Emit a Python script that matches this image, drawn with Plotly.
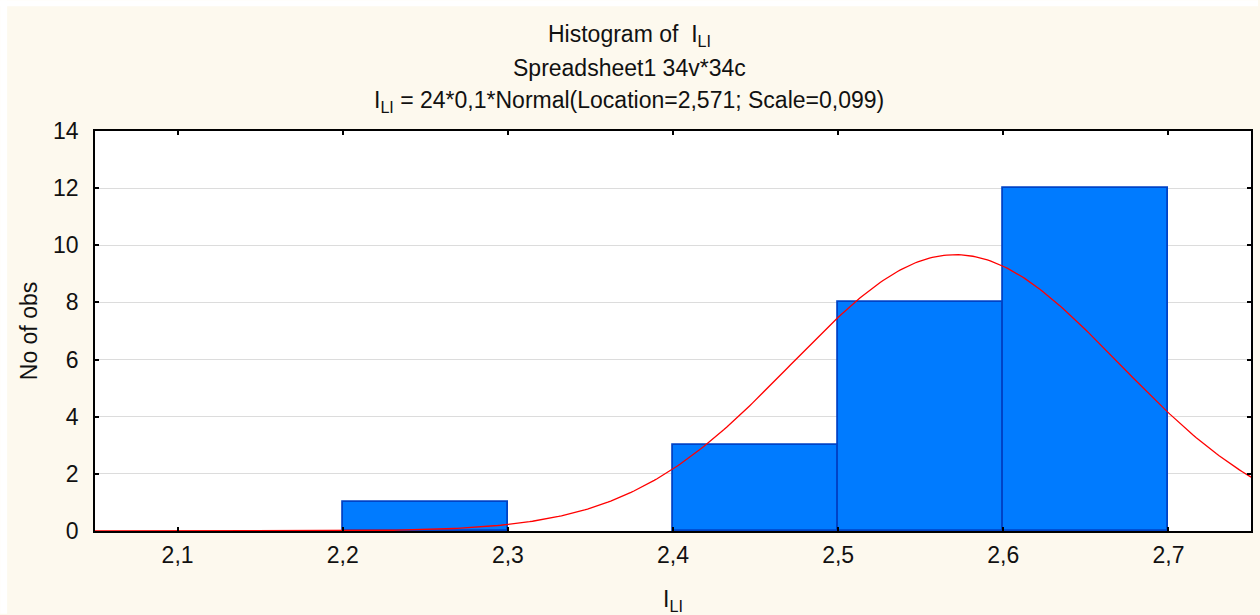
import numpy as np
import plotly.graph_objects as go

# ---- data ----
bin_left = [2.2, 2.3, 2.4, 2.5, 2.6]
counts = [1, 0, 3, 8, 12]
bin_width = 0.1
n_obs = 24
fit_location = 2.571
fit_scale = 0.099

x_tick_vals = [2.1, 2.2, 2.3, 2.4, 2.5, 2.6, 2.7]
x_tick_text = ["2,1", "2,2", "2,3", "2,4", "2,5", "2,6", "2,7"]
y_tick_vals = [0, 2, 4, 6, 8, 10, 12, 14]
y_tick_text = ["0", "2", "4", "6", "8", "10", "12", "14"]

title_lines = [
    "Histogram of  I<sub>LI</sub>",
    "Spreadsheet1 34v*34c",
    "I<sub>LI</sub> = 24*0,1*Normal(Location=2,571; Scale=0,099)",
]

# ---- layout geometry (pixels) ----
W, H = 1260, 615
L, R, T, B = 95, 7, 131, 83
plot_h = H - T - B
plot_w = W - L - R

def py(pix):
    return (H - B - pix) / plot_h

def px(pix):
    return (pix - L) / plot_w

FONT = "Liberation Sans, Arial, sans-serif"
FS = 23
TXT = "#111111"

bx = [l + bin_width / 2 for l, c in zip(bin_left, counts) if c > 0]
by = [c for c in counts if c > 0]

xs = np.linspace(2.05, 2.75, 400)
ys = n_obs * bin_width * np.exp(-0.5 * ((xs - fit_location) / fit_scale) ** 2) / (fit_scale * np.sqrt(2 * np.pi))

fig = go.Figure()
fig.add_trace(go.Bar(
    x=bx, y=by, width=bin_width,
    marker=dict(color="#007bff", line=dict(color="#0043c6", width=1.8)),
    hoverinfo="skip",
))
fig.add_trace(go.Scatter(
    x=xs, y=ys, mode="lines",
    line=dict(color="#ff0000", width=1.3),
    hoverinfo="skip",
))

annotations = []
for line, ypix in zip(title_lines, [35, 68, 101]):
    annotations.append(dict(
        text=line, xref="paper", yref="paper",
        x=px(630), y=py(ypix), xanchor="center", yanchor="middle",
        showarrow=False, font=dict(family=FONT, size=FS, color=TXT),
    ))

fig.update_layout(
    width=W, height=H,
    margin=dict(l=L, r=R, t=T, b=B, pad=0),
    paper_bgcolor="#fdf9ee",
    plot_bgcolor="#ffffff",
    showlegend=False,
    bargap=0,
    annotations=annotations,
    font=dict(family=FONT, size=FS, color=TXT),
    shapes=[
        dict(type="rect", xref="paper", yref="paper", x0=px(0), x1=px(7), y0=py(H), y1=py(0),
             fillcolor="#ffffff", line=dict(width=0), layer="below"),
        dict(type="rect", xref="paper", yref="paper", x0=px(0), x1=px(W), y0=py(6), y1=py(0),
             fillcolor="#ffffff", line=dict(width=0), layer="below"),
    ],
)

fig.update_xaxes(
    range=[2.05, 2.75],
    tickmode="array", tickvals=x_tick_vals, ticktext=x_tick_text,
    ticks="inside", ticklen=4, tickwidth=1.5, tickcolor="#000000",
    showline=True, linecolor="#000000", linewidth=1.5, mirror="ticks",
    showgrid=False, zeroline=False,
    tickfont=dict(family=FONT, size=FS, color=TXT),
    ticklabelstandoff=3,
    title=dict(text="I<sub>LI</sub>", font=dict(family=FONT, size=FS, color=TXT), standoff=24),
)
fig.update_yaxes(
    range=[0, 14],
    tickmode="array", tickvals=y_tick_vals, ticktext=y_tick_text,
    ticks="inside", ticklen=4, tickwidth=1.5, tickcolor="#000000",
    showline=True, linecolor="#000000", linewidth=1.5, mirror="ticks",
    showgrid=True, gridcolor="#dcdcdc", gridwidth=1, zeroline=False,
    tickfont=dict(family=FONT, size=FS, color=TXT),
    ticklabelstandoff=10,
    title=dict(text="No of obs", font=dict(family=FONT, size=FS, color=TXT), standoff=9),
)

fig.write_html("out.html")
